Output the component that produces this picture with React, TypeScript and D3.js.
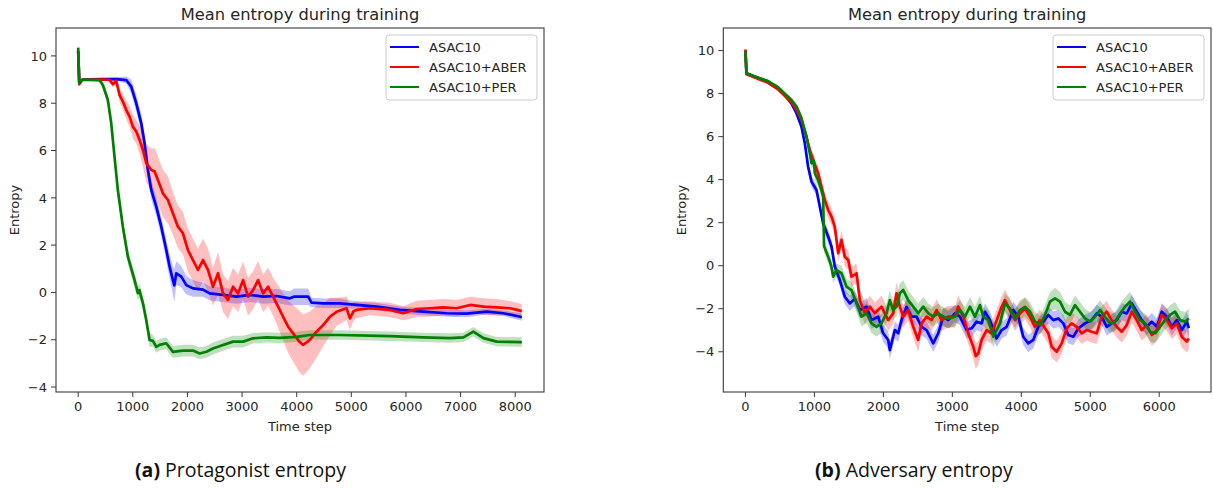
import React from "react";
import * as d3 from "d3";

// ---------- DATA: [timeStep, meanEntropy, halfBandWidth] ----------
const seriesNames = ["ASAC10", "ASAC10+ABER", "ASAC10+PER"];
const seriesColors = ["#0000ff", "#ff0000", "#008000"];

const protBlue: number[][] = [[0,10.2,0.2],[20,8.85,0.05],[80,9.0,0.05],[400,9.02,0.05],[700,9.02,0.08],[880,8.98,0.15],[971,8.7,0.3],[1063,8.0,0.35],[1155,7.15,0.4],[1215,6.31,0.4],[1276,5.18,0.4],[1338,4.33,0.4],[1430,3.63,0.4],[1521,2.78,0.4],[1613,1.79,0.45],[1674,1.09,0.5],[1734,0.52,0.6],[1760,0.3,0.7],[1796,0.81,0.5],[1887,0.67,0.45],[1980,0.31,0.4],[2101,0.17,0.35],[2285,0.12,0.3],[2407,-0.04,0.3],[2652,-0.1,0.3],[2896,-0.18,0.3],[3141,-0.1,0.3],[3385,-0.18,0.3],[3630,-0.15,0.3],[3874,-0.25,0.3],[3950,-0.18,0.35],[4210,-0.18,0.35],[4271,-0.43,0.2],[4485,-0.46,0.2],[4790,-0.46,0.2],[5096,-0.53,0.15],[5463,-0.6,0.15],[5890,-0.74,0.15],[6318,-0.81,0.15],[6746,-0.88,0.15],[7113,-0.9,0.15],[7479,-0.81,0.12],[7785,-0.88,0.12],[8090,-1.03,0.15],[8120,-1.05,0.15]];
const protRed: number[][] = [[0,10.2,0.2],[20,8.8,0.05],[80,9.0,0.05],[513,9.0,0.05],[574,8.98,0.1],[635,8.8,0.15],[696,8.95,0.15],[757,8.35,0.3],[818,8.07,0.35],[879,7.72,0.4],[941,7.43,0.45],[1001,7.01,0.5],[1063,6.8,0.5],[1124,6.45,0.6],[1185,6.02,0.7],[1246,5.46,0.8],[1338,5.18,0.9],[1399,5.11,1.0],[1460,4.75,1.0],[1551,4.19,1.0],[1643,3.91,1.0],[1734,3.35,0.9],[1826,2.78,0.9],[1918,2.5,0.9],[2009,1.79,0.9],[2101,1.37,0.9],[2193,0.95,0.9],[2285,1.37,0.9],[2376,0.95,0.9],[2468,0.24,0.8],[2560,0.81,0.9],[2652,-0.04,0.8],[2743,-0.32,0.8],[2835,0.24,0.8],[2927,-0.04,0.8],[3018,0.52,0.8],[3110,-0.18,0.8],[3202,0.1,0.8],[3293,0.52,0.8],[3385,-0.04,0.8],[3477,0.24,0.8],[3568,-0.18,0.8],[3660,-0.6,0.9],[3752,-1.03,1.0],[3843,-1.45,1.1],[3935,-1.73,1.2],[4057,-2.1,1.3],[4118,-2.22,1.3],[4240,-2.01,1.2],[4363,-1.66,1.1],[4485,-1.38,0.9],[4607,-1.03,0.8],[4729,-0.82,0.6],[4913,-0.67,0.5],[4974,-1.1,0.5],[5040,-0.8,0.4],[5096,-0.74,0.35],[5340,-0.67,0.3],[5707,-0.74,0.3],[5951,-0.88,0.3],[6196,-0.7,0.35],[6440,-0.67,0.35],[6685,-0.63,0.35],[6929,-0.67,0.35],[7174,-0.53,0.35],[7418,-0.6,0.35],[7662,-0.63,0.35],[7907,-0.67,0.3],[8090,-0.77,0.3],[8120,-0.8,0.3]];
const protGreen: number[][] = [[0,10.35,0.2],[20,8.85,0.05],[80,9.0,0.05],[390,8.98,0.08],[451,8.77,0.15],[543,8.14,0.25],[605,7.15,0.3],[665,5.74,0.3],[726,4.33,0.3],[818,2.78,0.3],[910,1.51,0.3],[1032,0.52,0.3],[1093,-0.03,0.3],[1120,0.1,0.3],[1185,-0.45,0.3],[1246,-1.17,0.3],[1307,-2.01,0.3],[1368,-2.05,0.25],[1430,-2.3,0.25],[1490,-2.22,0.25],[1612,-2.15,0.25],[1735,-2.51,0.25],[1918,-2.46,0.25],[2101,-2.46,0.25],[2224,-2.58,0.25],[2346,-2.51,0.25],[2468,-2.37,0.25],[2652,-2.22,0.25],[2835,-2.08,0.25],[3018,-2.08,0.25],[3202,-1.94,0.22],[3446,-1.9,0.22],[3691,-1.92,0.22],[3997,-1.88,0.22],[4240,-1.8,0.2],[4790,-1.8,0.2],[5707,-1.85,0.2],[6318,-1.9,0.2],[6807,-1.93,0.2],[7052,-1.9,0.2],[7234,-1.66,0.2],[7418,-1.93,0.2],[7662,-2.08,0.2],[8090,-2.1,0.2],[8120,-2.12,0.2]];

const advBlue: number[][] = [[0,10.0,0.15],[15,8.95,0.05],[135,8.79,0.05],[328,8.56,0.05],[473,8.25,0.08],[570,7.94,0.1],[667,7.55,0.12],[740,7.09,0.15],[812,6.47,0.2],[861,5.69,0.2],[909,4.6,0.25],[958,3.91,0.25],[1030,3.52,0.25],[1079,2.74,0.3],[1127,1.97,0.3],[1200,1.35,0.3],[1249,0.88,0.3],[1296,-0.05,0.3],[1369,-0.67,0.3],[1441,-1.44,0.35],[1514,-1.75,0.35],[1586,-1.53,0.35],[1659,-2.06,0.35],[1756,-1.9,0.4],[1828,-2.53,0.4],[1925,-2.37,0.4],[1997,-3.14,0.4],[2070,-3.45,0.4],[2094,-3.92,0.4],[2167,-2.99,0.4],[2215,-3.14,0.4],[2264,-2.53,0.4],[2336,-1.91,0.4],[2409,-2.37,0.4],[2481,-2.37,0.4],[2554,-2.84,0.4],[2627,-2.99,0.4],[2723,-3.61,0.4],[2796,-3.14,0.4],[2868,-2.37,0.4],[2941,-2.53,0.4],[3038,-2.22,0.4],[3110,-2.37,0.4],[3208,-2.99,0.4],[3280,-2.91,0.4],[3353,-2.6,0.4],[3425,-2.68,0.4],[3473,-2.14,0.4],[3546,-2.53,0.4],[3643,-3.38,0.4],[3715,-2.99,0.4],[3788,-2.84,0.4],[3884,-2.06,0.4],[3957,-2.37,0.4],[4029,-3.3,0.4],[4102,-3.61,0.4],[4174,-3.45,0.4],[4247,-2.84,0.4],[4320,-2.6,0.4],[4392,-2.29,0.4],[4465,-2.53,0.4],[4537,-2.45,0.4],[4610,-2.68,0.4],[4682,-3.22,0.4],[4755,-3.3,0.4],[4827,-2.91,0.4],[4924,-2.68,0.4],[5021,-2.53,0.4],[5094,-2.22,0.4],[5166,-2.37,0.4],[5239,-2.84,0.4],[5311,-2.68,0.4],[5384,-2.53,0.4],[5457,-2.14,0.4],[5529,-2.22,0.4],[5602,-1.75,0.4],[5675,-2.14,0.4],[5747,-2.53,0.4],[5820,-2.84,0.4],[5892,-2.6,0.4],[5965,-2.84,0.4],[6037,-2.14,0.4],[6110,-2.37,0.4],[6182,-2.84,0.4],[6255,-2.53,0.4],[6328,-2.99,0.45],[6400,-2.6,0.45],[6430,-2.9,0.45]];
const advRed: number[][] = [[0,10.05,0.2],[15,8.9,0.05],[135,8.75,0.05],[328,8.5,0.05],[473,8.2,0.08],[570,7.9,0.1],[667,7.6,0.12],[740,7.24,0.15],[812,6.78,0.2],[885,6.0,0.2],[933,5.38,0.25],[982,4.92,0.3],[1054,4.3,0.3],[1103,3.67,0.35],[1151,3.06,0.35],[1200,2.59,0.4],[1248,2.28,0.4],[1296,1.81,0.4],[1345,0.58,0.4],[1393,1.2,0.45],[1441,0.42,0.45],[1490,0.27,0.45],[1538,-0.51,0.45],[1611,-0.35,0.45],[1659,-1.6,0.5],[1732,-2.21,0.5],[1804,-1.9,0.5],[1877,-2.21,0.5],[1973,-1.9,0.5],[2070,-2.53,0.5],[2142,-2.21,0.5],[2191,-1.28,0.5],[2239,-1.9,0.5],[2288,-2.37,0.5],[2360,-2.06,0.5],[2433,-2.84,0.5],[2505,-3.45,0.55],[2554,-2.68,0.5],[2627,-2.37,0.5],[2699,-2.53,0.5],[2772,-2.06,0.5],[2844,-2.53,0.5],[2941,-2.37,0.5],[3038,-2.37,0.5],[3086,-1.9,0.5],[3160,-2.37,0.5],[3231,-3.14,0.5],[3304,-3.77,0.55],[3340,-4.2,0.6],[3377,-4.07,0.55],[3425,-3.45,0.5],[3498,-2.99,0.5],[3570,-3.14,0.5],[3643,-2.53,0.5],[3715,-1.91,0.5],[3763,-1.6,0.5],[3836,-2.06,0.5],[3909,-2.53,0.5],[3981,-2.22,0.5],[4054,-1.99,0.5],[4126,-2.37,0.5],[4199,-2.84,0.5],[4271,-2.53,0.5],[4344,-2.91,0.5],[4392,-3.14,0.5],[4441,-3.77,0.5],[4513,-4.0,0.5],[4586,-3.61,0.5],[4658,-2.91,0.5],[4731,-2.68,0.5],[4803,-2.84,0.5],[4876,-3.14,0.5],[4948,-2.99,0.5],[5021,-3.07,0.5],[5094,-3.14,0.5],[5166,-2.37,0.5],[5239,-2.14,0.5],[5311,-2.53,0.5],[5384,-2.84,0.5],[5457,-3.07,0.5],[5529,-2.76,0.5],[5602,-2.14,0.5],[5675,-2.53,0.5],[5747,-2.99,0.5],[5820,-2.76,0.5],[5892,-3.22,0.5],[5965,-2.99,0.5],[6037,-2.29,0.5],[6110,-2.53,0.5],[6182,-2.91,0.5],[6255,-2.68,0.5],[6328,-3.3,0.5],[6400,-3.53,0.5],[6430,-3.38,0.5]];
const advGreen: number[][] = [[0,9.95,0.15],[15,8.95,0.05],[135,8.8,0.05],[328,8.58,0.05],[473,8.3,0.08],[570,8.0,0.1],[667,7.7,0.12],[740,7.4,0.15],[812,6.86,0.2],[885,6.0,0.2],[933,5.23,0.25],[958,4.76,0.25],[990,4.9,0.25],[1006,4.3,0.3],[1054,3.98,0.3],[1103,3.5,0.3],[1127,3.21,0.3],[1140,0.9,0.3],[1200,0.42,0.3],[1248,-0.05,0.3],[1272,-0.51,0.3],[1320,-0.2,0.3],[1393,-0.35,0.35],[1465,-0.97,0.35],[1538,-1.13,0.4],[1611,-1.75,0.4],[1683,-2.37,0.45],[1756,-2.21,0.45],[1828,-2.68,0.45],[1901,-2.84,0.45],[1973,-2.68,0.45],[2046,-2.21,0.45],[2094,-1.6,0.45],[2142,-2.06,0.45],[2191,-1.9,0.45],[2239,-1.28,0.45],[2288,-1.13,0.45],[2360,-1.6,0.45],[2433,-1.9,0.45],[2505,-2.21,0.45],[2578,-1.9,0.45],[2651,-2.21,0.45],[2723,-2.37,0.45],[2796,-2.21,0.45],[2868,-2.37,0.45],[2941,-2.45,0.45],[3038,-2.37,0.45],[3110,-2.06,0.45],[3184,-2.37,0.45],[3256,-1.9,0.45],[3328,-2.37,0.45],[3401,-1.83,0.45],[3449,-2.37,0.45],[3522,-2.53,0.45],[3594,-3.3,0.5],[3691,-2.68,0.45],[3763,-1.75,0.45],[3836,-1.99,0.45],[3909,-2.45,0.45],[3981,-2.06,0.45],[4054,-1.91,0.45],[4126,-2.14,0.45],[4199,-2.6,0.45],[4271,-2.76,0.45],[4344,-2.29,0.45],[4416,-1.67,0.45],[4489,-1.52,0.5],[4562,-1.67,0.45],[4634,-2.14,0.45],[4706,-2.29,0.45],[4779,-1.83,0.45],[4851,-2.14,0.45],[4924,-2.45,0.45],[4997,-2.6,0.45],[5069,-2.37,0.45],[5142,-2.06,0.45],[5214,-2.37,0.45],[5287,-2.68,0.45],[5360,-2.6,0.45],[5432,-2.22,0.45],[5505,-1.91,0.45],[5577,-1.67,0.45],[5650,-2.14,0.45],[5722,-2.53,0.45],[5795,-2.68,0.45],[5868,-3.07,0.45],[5940,-3.14,0.45],[6013,-2.84,0.45],[6085,-2.53,0.45],[6158,-2.29,0.45],[6230,-2.14,0.45],[6303,-2.53,0.45],[6375,-2.6,0.45],[6430,-2.45,0.45]];

const protXTicks = [0, 1000, 2000, 3000, 4000, 5000, 6000, 7000, 8000];
const advXTicks = [0, 1000, 2000, 3000, 4000, 5000, 6000];
const yTicksAll = [-4, -2, 0, 2, 4, 6, 8, 10];
const chartTitle = "Mean entropy during training";
const xLabel = "Time step";
const yLabel = "Entropy";
const captions = [["(a)", " Protagonist entropy"], ["(b)", " Adversary entropy"]];

const W = 1213, H = 488;
const TICK_FONT = "'DejaVu Sans', sans-serif";
const fmt = (v: number) => (v < 0 ? "\u2212" + Math.abs(v) : String(v));

type PanelProps = {
  left: number; right: number; top: number; bottom: number;
  xDomain: [number, number]; yDomain: [number, number];
  xTicks: number[]; series: number[][][]; caption: string[]; captionX: number;
  legendW: number;
};

function Panel(p: PanelProps) {
  const x = d3.scaleLinear().domain(p.xDomain).range([p.left, p.right]);
  const y = d3.scaleLinear().domain(p.yDomain).range([p.bottom, p.top]);
  const line = d3.line<number[]>().x(d => x(d[0])).y(d => y(d[1]));
  const area = d3.area<number[]>().x(d => x(d[0])).y0(d => y(d[1] - d[2])).y1(d => y(d[1] + d[2]));
  const cx = (p.left + p.right) / 2;
  const cy = (p.top + p.bottom) / 2;
  const yTicks = yTicksAll.filter(t => t >= p.yDomain[0] && t <= p.yDomain[1]);
  const clipId = "clip" + Math.round(p.left);
  const lgRight = p.right - 7;
  const lgLeft = lgRight - p.legendW;
  return (
    <g>
      <defs>
        <clipPath id={clipId}>
          <rect x={p.left} y={p.top} width={p.right - p.left} height={p.bottom - p.top} />
        </clipPath>
      </defs>
      <text x={cx} y={20} textAnchor="middle" fontFamily={TICK_FONT} fontSize={16.3} fill="#262626">{chartTitle}</text>
      <g clipPath={`url(#${clipId})`}>
        {p.series.map((s, i) => (
          <path key={"a" + i} d={area(s) || ""} fill={seriesColors[i]} fillOpacity={0.25} stroke="none" />
        ))}
        {p.series.map((s, i) => (
          <path key={"l" + i} d={line(s) || ""} fill="none" stroke={seriesColors[i]} strokeWidth={2.7} strokeLinejoin="round" />
        ))}
      </g>
      <rect x={p.left} y={p.top} width={p.right - p.left} height={p.bottom - p.top} fill="none" stroke="#3a3a3a" strokeWidth={1.1} />
      {p.xTicks.map(t => (
        <g key={"x" + t}>
          <line x1={x(t)} x2={x(t)} y1={p.bottom} y2={p.bottom + 5} stroke="#3a3a3a" strokeWidth={1} />
          <text x={x(t)} y={p.bottom + 19} textAnchor="middle" fontFamily={TICK_FONT} fontSize={13} fill="#262626">{fmt(t)}</text>
        </g>
      ))}
      {yTicks.map(t => (
        <g key={"y" + t}>
          <line x1={p.left - 5} x2={p.left} y1={y(t)} y2={y(t)} stroke="#3a3a3a" strokeWidth={1} />
          <text x={p.left - 9} y={y(t) + 4.7} textAnchor="end" fontFamily={TICK_FONT} fontSize={13} fill="#262626">{fmt(t)}</text>
        </g>
      ))}
      <text x={cx} y={p.bottom + 39} textAnchor="middle" fontFamily={TICK_FONT} fontSize={13} fill="#262626">{xLabel}</text>
      <text transform={`translate(${p.left - 37},${cy}) rotate(-90)`} textAnchor="middle" fontFamily={TICK_FONT} fontSize={13} fill="#262626">{yLabel}</text>
      <rect x={lgLeft} y={35} width={p.legendW} height={65} rx={3} fill="#fff" fillOpacity={0.8} stroke="#cccccc" strokeWidth={1} />
      {seriesNames.map((n, i) => (
        <g key={n}>
          <line x1={lgLeft + 4} x2={lgLeft + 33} y1={47 + i * 20} y2={47 + i * 20} stroke={seriesColors[i]} strokeWidth={2} />
          <text x={lgLeft + 43} y={51.5 + i * 20} fontFamily={TICK_FONT} fontSize={13} fill="#262626">{n}</text>
        </g>
      ))}
      <text x={p.captionX} y={477} fontFamily="'Open Sans', sans-serif" fontSize={19.5} fill="#111">
        <tspan fontWeight="bold">{p.caption[0]}</tspan>
        <tspan>{p.caption[1]}</tspan>
      </text>
    </g>
  );
}

export default function App() {
  return (
    <svg width={W} height={H} viewBox={`0 0 ${W} ${H}`} style={{ position: "absolute", left: 0, top: 0, background: "#fff" }}>
      <rect x={0} y={0} width={W} height={H} fill="#fff" />
      <Panel left={56} right={544} top={28} bottom={392} xDomain={[-406, 8527]} yDomain={[-4.21, 11.18]}
        xTicks={protXTicks} series={[protBlue, protRed, protGreen]} caption={captions[0]} captionX={135} legendW={151} />
      <Panel left={723.3} right={1211} top={28} bottom={392} xDomain={[-321, 6751]} yDomain={[-5.87, 11.05]}
        xTicks={advXTicks} series={[advBlue, advRed, advGreen]} caption={captions[1]} captionX={815} legendW={151} />
    </svg>
  );
}
